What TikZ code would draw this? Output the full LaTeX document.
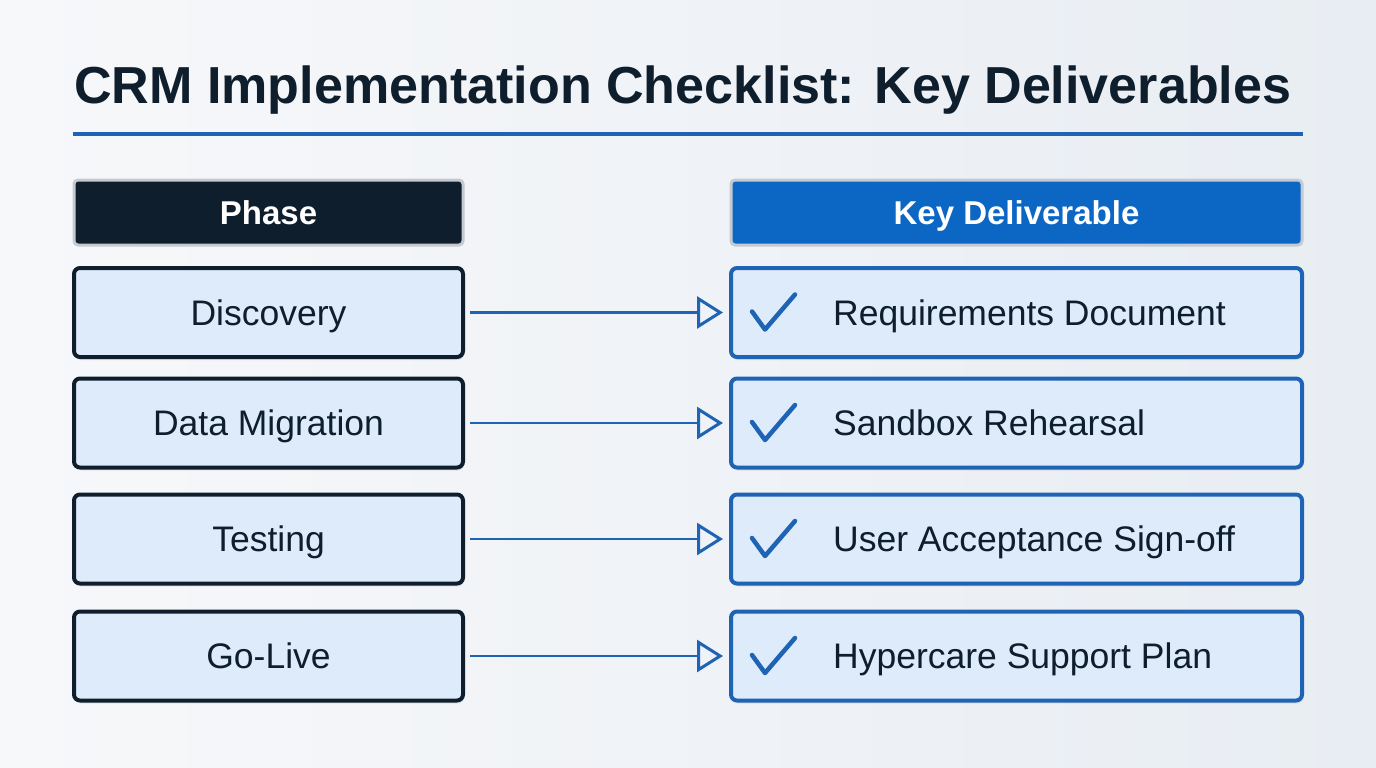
\documentclass[tikz,border=0pt]{standalone}
\usepackage{fontspec}
\setmainfont{Liberation Sans}
\usetikzlibrary{arrows.meta,shadows}
\definecolor{navy}{HTML}{0F1E2D}
\definecolor{hdrblue}{HTML}{0B66C4}
\definecolor{brdblue}{HTML}{1E63B4}
\definecolor{lightfill}{HTML}{DEEBFA}
\definecolor{graybrd}{HTML}{C5CAD1}
\definecolor{bgA}{HTML}{F7F8FA}
\definecolor{bgB}{HTML}{E8EDF3}
\tikzset{
  hdrbox/.style={draw=graybrd, line width=3pt, rounded corners=4pt, minimum width=389pt, minimum height=65pt, inner sep=0pt, text height=23pt, text depth=0pt, text=white, font=\fontsize{33}{38}\selectfont\bfseries},
  phasebox/.style={draw=navy, fill=lightfill, line width=4pt, rounded corners=6pt, minimum width=389pt, minimum height=89pt, inner sep=0pt, text height=25pt, text depth=0pt, text=navy, font=\fontsize{35.5}{40}\selectfont, drop shadow={shadow xshift=1pt, shadow yshift=-3pt, opacity=0.15}},
  delbox/.style={draw=brdblue, fill=lightfill, line width=4pt, rounded corners=6pt, minimum width=571pt, minimum height=89pt, inner sep=0pt, drop shadow={shadow xshift=1pt, shadow yshift=-3pt, opacity=0.15}},
  deltext/.style={anchor=west, inner sep=0pt, text height=25pt, text depth=0pt, text=navy, font=\fontsize{35.5}{40}\selectfont},
  conn/.style={draw=brdblue, line width=2.2pt, -{Triangle[open, length=26pt, width=32pt, line width=3pt]}},
  check/.style={draw=brdblue, line width=4.5pt, line cap=round, line join=round}
}
\begin{document}
\begin{tikzpicture}[x=1pt,y=-1pt]
\shade[left color=bgA, right color=bgB] (0,0) rectangle (1376,768);
\useasboundingbox (0,0) rectangle (1376,768);
% title
\node[anchor=west, inner sep=0pt, text=navy] (title) at (74,90) {\resizebox{1217pt}{!}{\bfseries CRM Implementation Checklist: Key Deliverables}};
\coordinate (rl) at (73,134);
\coordinate (rr) at (1303,134);
\draw[brdblue, line width=3.5pt] (rl) -- (rr);
% headers
\node[hdrbox, fill=navy] (hp) at (268.5,212.5) {Phase};
\node[hdrbox, fill=hdrblue, minimum width=571pt] (hd) at (1016.5,212.5) {Key Deliverable};
% rows
\foreach \i/\y/\ph/\dl in {1/312.5/Discovery/Requirements Document, 2/423/Data Migration/Sandbox Rehearsal, 3/539/Testing/User Acceptance Sign-off, 4/656/Go-Live/Hypercare Support Plan}{
  \node[phasebox] (p\i) at (268.5,\y) {\ph};
  \node[delbox] (d\i) at (1016.5,\y) {};
  \node[deltext] (t\i) at (833,\y) {\dl};
  \draw[check] ([shift={(23pt,1pt)}]d\i.west) -- ++(13pt,-18pt) -- ++(30pt,35pt);
  \draw[conn] ([xshift=5pt]p\i.east) -- ([xshift=-6pt]d\i.west);
}
\end{tikzpicture}
\end{document}
